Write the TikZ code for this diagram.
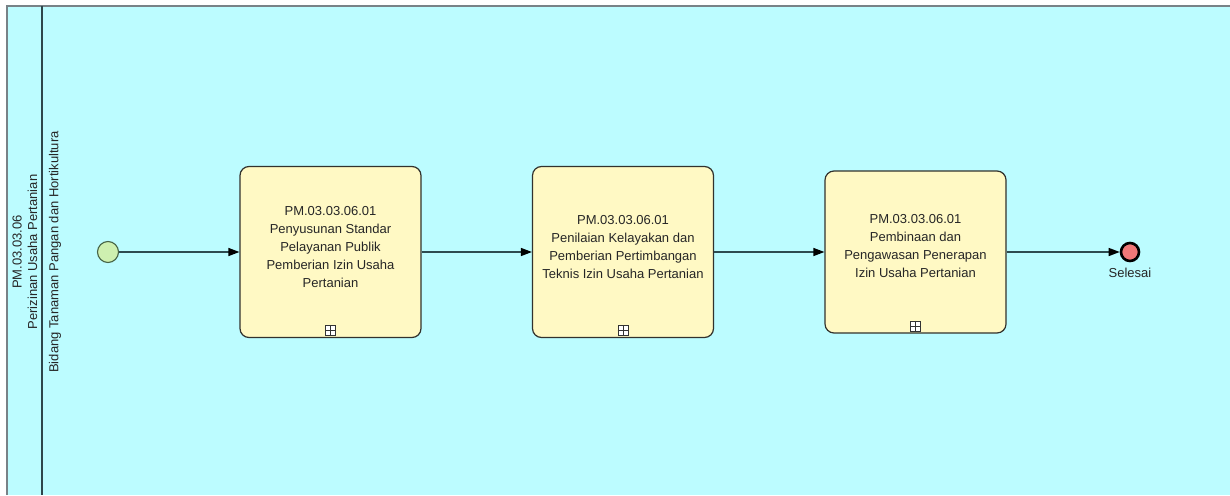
\documentclass[tikz,border=0pt]{standalone}
\usepackage{fontspec}
\setmainfont{Liberation Sans}
\usetikzlibrary{arrows.meta, positioning, calc}
\definecolor{poolbg}{RGB}{188,252,255}
\definecolor{poolline}{RGB}{120,130,135}
\definecolor{laneline}{RGB}{45,70,75}
\definecolor{taskfill}{RGB}{255,249,196}
\definecolor{taskline}{RGB}{50,50,45}
\definecolor{flowline}{RGB}{45,75,80}
\definecolor{startfill}{RGB}{206,240,176}
\definecolor{startline}{RGB}{70,100,70}
\definecolor{endfill}{RGB}{240,120,120}
\tikzset{
  % BPMN sub-process task (collapsed)
  taskbox/.style={
    rectangle, rounded corners=9pt, minimum width=181pt, minimum height=171pt,
    draw=taskline, fill=taskfill, line width=1.2pt
  },
  tasktext/.style={
    align=center, font=\fontsize{13}{18}\selectfont, text=black!85, inner sep=0pt
  },
  % collapsed marker at bottom of task
  submark/.style={
    rectangle, draw=black!80, fill=white, minimum size=10pt, inner sep=0pt, line width=0.8pt
  },
  % events
  startevent/.style={circle, draw=startline, fill=startfill, minimum size=21pt, inner sep=0pt, line width=1.1pt},
  endevent/.style={circle, draw=black, fill=endfill, minimum size=18pt, inner sep=0pt, line width=2.6pt},
  % sequence flow
  seqflow/.style={-{Triangle[length=11pt, width=8pt, color=black]}, line width=1.3pt, color=flowline},
  lanelabel/.style={rotate=90, align=center, font=\fontsize{13}{15.5}\selectfont, text=black!85, inner sep=0pt}
}
\begin{document}
\begin{tikzpicture}[x=1pt, y=-1pt]
  \useasboundingbox (0,0) rectangle (1230,495);
  \fill[white] (0,0) rectangle (1230,495);

  % Pool and lane
  \fill[poolbg] (7,6) rectangle (1230,495);
  \draw[poolline, line width=1.4pt] (7,495) -- (7,6) -- (1230,6);
  \draw[laneline, line width=1.8pt] (42,6) -- (42,495);
  \node[lanelabel] (pool) at (25,252) {PM.03.03.06\\Perizinan Usaha Pertanian};
  \node[lanelabel] (lane) at (55,252) {Bidang Tanaman Pangan dan Hortikultura};

  % Events
  \node[startevent] (start) at (108,252) {};
  \node[endevent] (finish) at (1130,252) {};
  \node[tasktext, below=6pt of finish] (finishlbl) {Selesai};

  % Task 1
  \node[taskbox] (t1) at (330.5,252) {};
  \node[tasktext] (t1txt) at ([yshift=4.5pt]t1.center)
    {PM.03.03.06.01\\Penyusunan Standar\\Pelayanan Publik\\Pemberian Izin Usaha\\Pertanian};
  \node[submark, above=2pt of t1.south] (t1m) {};

  % Task 2
  \node[taskbox] (t2) at (623,252) {};
  \node[tasktext] (t2txt) at ([yshift=4.5pt]t2.center)
    {PM.03.03.06.01\\Penilaian Kelayakan dan\\Pemberian Pertimbangan\\Teknis Izin Usaha Pertanian};
  \node[submark, above=2pt of t2.south] (t2m) {};

  % Task 3
  \node[taskbox, minimum height=162pt] (t3) at (915.5,252) {};
  \node[tasktext] (t3txt) at ([yshift=5.5pt]t3.center)
    {PM.03.03.06.01\\Pembinaan dan\\Pengawasan Penerapan\\Izin Usaha Pertanian};
  \node[submark, above=2pt of t3.south] (t3m) {};

  % plus signs in the markers
  \foreach \m in {t1m, t2m, t3m} {
    \draw[black!80, line width=0.8pt] (\m.north) -- (\m.south) (\m.west) -- (\m.east);
  }

  % Sequence flows
  \draw[seqflow] (start) -- (t1);
  \draw[seqflow] (t1) -- (t2);
  \draw[seqflow] (t2) -- (t3);
  \draw[seqflow] (t3) -- (finish);
\end{tikzpicture}
\end{document}
